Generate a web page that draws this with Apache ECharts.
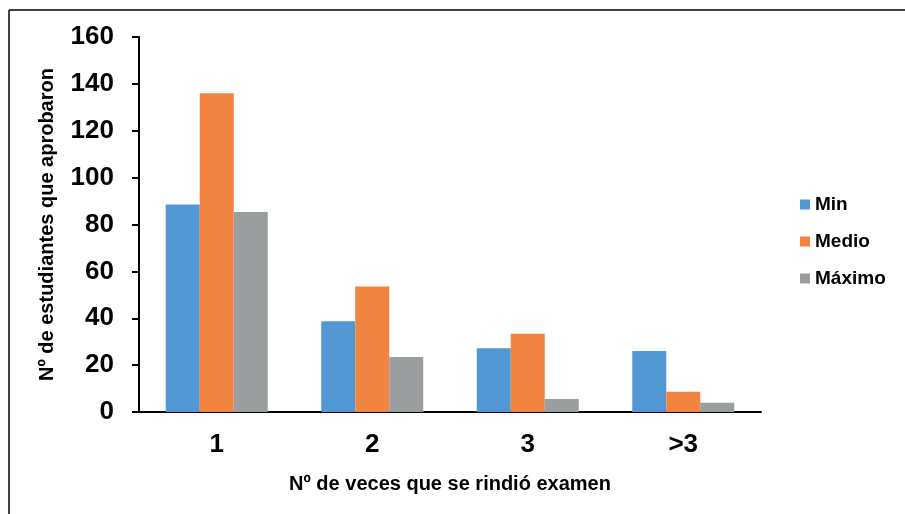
<!DOCTYPE html>
<html>
<head>
<meta charset="utf-8">
<script src="https://cdn.jsdelivr.net/npm/echarts@6/dist/echarts.min.js"></script>
<style>
  html, body { margin: 0; padding: 0; background: #fff; }
  #chart { width: 905px; height: 514px; }
</style>
</head>
<body>
<div id="chart"></div>
<script>
const categories = ['1', '2', '3', '>3'];
const seriesNames = ['Min', 'Medio', 'Máximo'];
const minValues = [88.5, 38.7, 27.2, 26];
const medioValues = [136, 53.6, 33.4, 8.6];
const maximoValues = [85.3, 23.5, 5.5, 4];
const yTicks = { min: 0, max: 160, interval: 20 };

const colors = ['#5197d3', '#f08440', '#9b9e9f'];
const font = 'Liberation Sans, Arial, sans-serif';

const chart = echarts.init(document.getElementById('chart'));
chart.setOption({
  animation: false,
  color: colors,
  textStyle: { fontFamily: font },
  graphic: [
    { type: 'line', shape: { x1: 9, y1: 10, x2: 905, y2: 10 }, style: { stroke: '#000', lineWidth: 1.5 } },
    { type: 'line', shape: { x1: 9, y1: 10, x2: 9, y2: 514 }, style: { stroke: '#000', lineWidth: 1.5 } }
  ],
  grid: { left: 139, right: 144, top: 37, bottom: 102 },
  legend: {
    orient: 'vertical',
    left: 795,
    top: 190,
    itemWidth: 10,
    itemHeight: 10,
    itemGap: 18,
    icon: 'rect',
    data: seriesNames,
    textStyle: { fontSize: 19, fontWeight: 'bold', color: '#000', fontFamily: font }
  },
  xAxis: {
    type: 'category',
    data: categories,
    name: 'Nº de veces que se rindió examen',
    nameLocation: 'middle',
    nameGap: 62,
    nameTextStyle: { fontSize: 20, fontWeight: 'bold', color: '#000', fontFamily: font },
    axisLine: { lineStyle: { color: '#000', width: 2 } },
    axisTick: { show: false },
    axisLabel: { fontSize: 26, fontWeight: 'bold', color: '#000', margin: 20, fontFamily: font }
  },
  yAxis: {
    type: 'value',
    min: yTicks.min,
    max: yTicks.max,
    interval: yTicks.interval,
    name: 'Nº de estudiantes que aprobaron',
    nameLocation: 'middle',
    nameGap: 82,
    nameTextStyle: { fontSize: 20, fontWeight: 'bold', color: '#000', fontFamily: font },
    axisLine: { show: true, lineStyle: { color: '#000', width: 2 } },
    axisTick: { show: true, inside: false, length: 7, lineStyle: { color: '#000', width: 2 } },
    axisLabel: { fontSize: 26, fontWeight: 'bold', color: '#000', margin: 25, fontFamily: font },
    splitLine: { show: false }
  },
  series: [
    { name: seriesNames[0], type: 'bar', data: minValues, barWidth: 34, barGap: '0%' },
    { name: seriesNames[1], type: 'bar', data: medioValues, barWidth: 34, barGap: '0%' },
    { name: seriesNames[2], type: 'bar', data: maximoValues, barWidth: 34, barGap: '0%' }
  ]
});
window.addEventListener('resize', () => chart.resize());
</script>
</body>
</html>
